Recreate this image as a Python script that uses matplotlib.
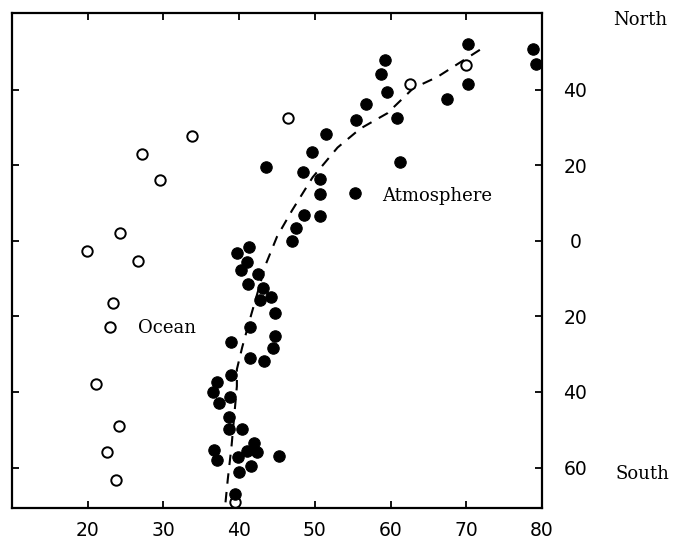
import matplotlib
matplotlib.use("Agg")
import matplotlib.pyplot as plt

# Ocean (open circles)
ocean_x = [33.8, 27.2, 29.5, 24.3, 19.9, 26.7, 46.5, 62.6, 69.9, 23.4, 22.9,
           21.1, 24.1, 22.5, 23.7, 39.5]
ocean_y = [27.8, 22.9, 16.2, 2.1, -2.6, -5.4, 32.5, 41.4, 46.5, -16.5, -22.8,
           -37.8, -49.0, -55.9, -63.3, -69.2]

# Atmosphere (filled circles)
atmos_x = [70.2, 78.8, 59.2, 79.2, 58.8, 70.2, 59.5, 67.4, 56.8, 60.9, 55.4,
           51.5, 49.6, 61.2, 43.6, 48.4, 50.7, 50.7, 55.3, 48.6, 50.7, 47.5,
           47.0, 41.3, 39.7, 41.0, 40.3, 42.5, 41.2, 43.2, 42.8, 44.2, 44.7,
           41.4, 44.7, 38.9, 44.5, 41.5, 43.3, 38.9, 37.1, 36.6, 38.8, 37.3,
           38.6, 38.6, 40.4, 36.7, 37.1, 41.9, 42.4, 39.9, 41.1, 41.6, 40.0,
           45.3, 39.5]
atmos_y = [52.1, 50.8, 47.8, 46.8, 44.1, 41.5, 39.4, 37.6, 36.2, 32.4, 32.0,
           28.4, 23.4, 20.8, 19.6, 18.2, 16.5, 12.3, 12.7, 6.8, 6.5, 3.4,
           0.0, -1.5, -3.1, -5.5, -7.8, -8.9, -11.3, -12.4, -15.6, -14.8, -19.0,
           -22.7, -25.1, -26.9, -28.3, -30.9, -31.7, -35.6, -37.4, -40.0, -41.4,
           -43.0, -46.7, -49.9, -49.9, -55.4, -58.0, -53.4, -56.0, -57.1, -55.5,
           -59.7, -61.3, -56.9, -67.1]

# Dashed trend curve through the atmosphere values
trend_x = [38.2, 38.5, 39.0, 39.7, 39.7, 40.4, 41.6, 43.5, 45.0, 47.0, 49.7,
           53.0, 56.0, 59.6, 63.0, 66.2, 72.3]
trend_y = [-69.2, -63.1, -54.2, -38.5, -34.0, -28.2, -19.5, -6.3, 1.1, 8.1,
           16.8, 24.7, 29.7, 33.8, 40.4, 43.4, 51.2]

x_ticks = [20, 30, 40, 50, 60, 70, 80]
y_ticks = [-60, -40, -20, 0, 20, 40]
y_tick_labels = ["60", "40", "20", "0", "20", "40"]

fig = plt.figure(figsize=(6.74, 5.50), dpi=100)
ax = fig.add_axes([12 / 674, 1 - 508 / 550, 530 / 674, 495 / 550])

ax.plot(trend_x, trend_y, color="black", lw=1.5, ls=(0, (5, 4)), zorder=2)
ax.plot(ocean_x, ocean_y, ls="none", marker="o", ms=7.5, mfc="white",
        mec="black", mew=1.4, zorder=3)
ax.plot(atmos_x, atmos_y, ls="none", marker="o", ms=8.2, mfc="black",
        mec="black", mew=0.8, zorder=4)

ax.set_xlim(10, 80)
ax.set_ylim(-70.7, 60.3)

for s in ax.spines.values():
    s.set_linewidth(1.6)

ax.set_xticks(x_ticks)
ax.set_yticks(y_ticks)
ax.set_yticklabels(y_tick_labels)
ax.tick_params(axis="both", direction="in", length=5, width=1.3,
               top=True, right=True, left=True, bottom=True,
               labelsize=13.5, labelleft=False, labelright=True)
ax.tick_params(axis="x", pad=9)
ax.tick_params(axis="y", pad=24)
for lbl in ax.get_yticklabels():
    lbl.set_horizontalalignment("center")

serif = "DejaVu Serif"
ax.text(26.6, -23.0, "Ocean", fontsize=13, family=serif, va="center", ha="left")
ax.text(58.9, 12.0, "Atmosphere", fontsize=13, family=serif, va="center", ha="left")
ax.text(1.185, 0.985, "North", transform=ax.transAxes, fontsize=13,
        family=serif, va="center", ha="center")
ax.text(1.19, 0.069, "South", transform=ax.transAxes, fontsize=13,
        family=serif, va="center", ha="center")

fig.savefig("out.png", dpi=100)
